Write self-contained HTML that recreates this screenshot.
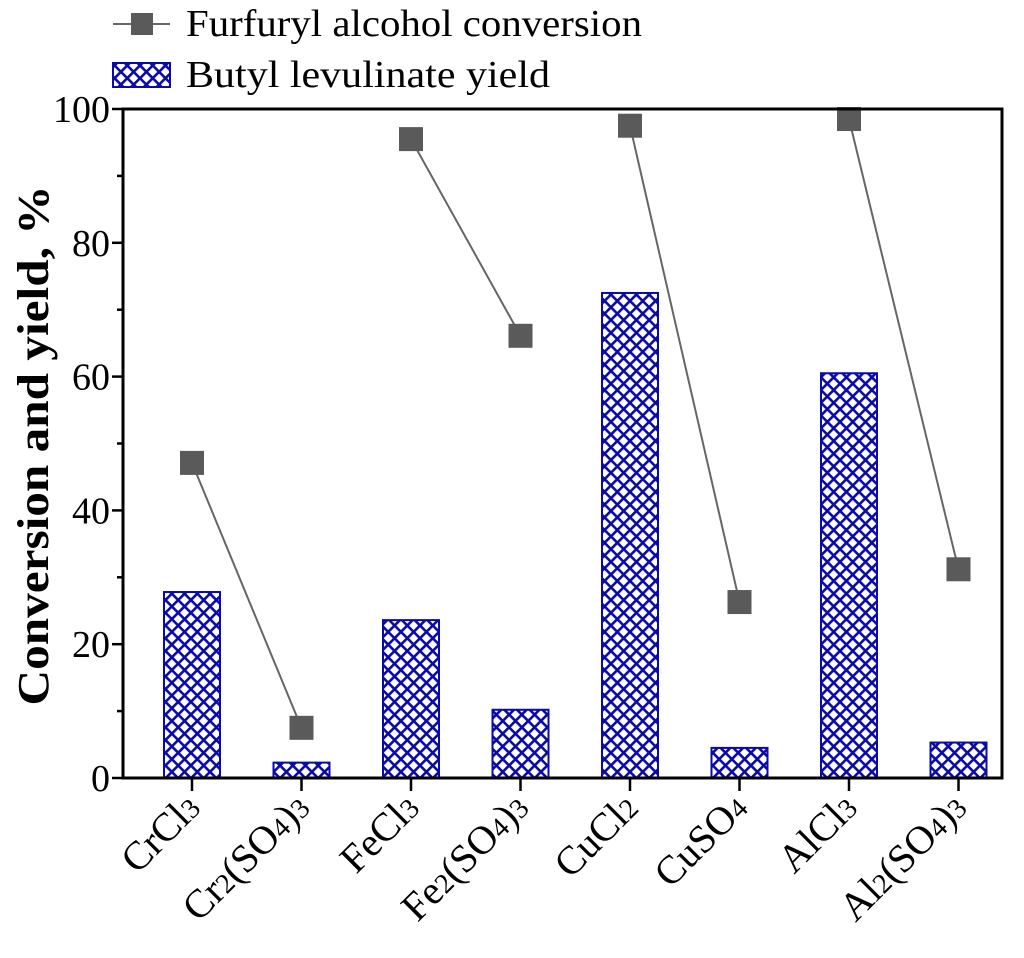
<!DOCTYPE html>
<html><head><meta charset="utf-8"><style>
body{margin:0;background:#fff;}
svg{display:block;font-family:"Liberation Serif",serif;}
</style></head><body>
<svg id="chart" width="1024" height="958">
<defs>
<pattern id="hatch" patternUnits="userSpaceOnUse" width="9" height="9" patternTransform="rotate(45)">
<rect width="9" height="9" fill="#fff"/>
<rect x="0" y="0" width="2.6" height="9" fill="#0a0aa8"/>
<rect x="0" y="0" width="9" height="2.6" fill="#0a0aa8"/>
</pattern>
</defs>
<g id="plot"></g>
</svg>
<script>
const categories=[["CrCl","3"],["Cr","2","(SO","4",")","3"],["FeCl","3"],["Fe","2","(SO","4",")","3"],["CuCl","2"],["CuSO","4"],["AlCl","3"],["Al","2","(SO","4",")","3"]];
const yieldValues=[27.8,2.3,23.6,10.2,72.5,4.5,60.5,5.3];
const conversionValues=[47.1,7.5,95.5,66.1,97.5,26.3,98.5,31.2];
const yTicks=[0,20,40,60,80,100];
const NS="http://www.w3.org/2000/svg";
const g=document.getElementById('plot');
const L=123,R=1002,T=109,B=778;
const y=v=>B-(v/100)*(B-T);
const x=i=>192+i*109.5;
function mk(t,a,p){const e=document.createElementNS(NS,t);for(const k in a)e.setAttribute(k,a[k]);(p||g).appendChild(e);return e;}
yieldValues.forEach((v,i)=>{
 const r=mk('rect',{x:x(i)-28,y:y(v),width:56,height:B-y(v),fill:'url(#hatch)',stroke:'#0a0aa8','stroke-width':2});
 
 
});
for(let i=0;i<conversionValues.length;i+=2){
 const l=mk('line',{x1:x(i),y1:y(conversionValues[i]),x2:x(i+1),y2:y(conversionValues[i+1]),stroke:'#666','stroke-width':2});
 
 
}
conversionValues.forEach((v,i)=>{
 const m=mk('rect',{x:x(i)-12,y:y(v)-12,width:24,height:24,fill:'#5a5a5a'});
 
 
});
const fr=mk('rect',{x:L,y:T,width:R-L,height:B-T,fill:'none',stroke:'#000','stroke-width':3});


for(let v=0;v<=100;v+=10){
 const major=v%20===0;
 mk('line',{x1:L-(major?11:6),x2:L,y1:y(v),y2:y(v),stroke:'#000','stroke-width':2.5});
}
yTicks.forEach(v=>{
 const t=mk('text',{x:L-13,y:y(v)+13,'text-anchor':'end','font-size':38});
 t.textContent=v;
 
 
});
categories.forEach((c,i)=>{
 mk('line',{x1:x(i),x2:x(i),y1:B,y2:B+13,stroke:'#000','stroke-width':2.5});
 const t=mk('text',{x:x(i)+10,y:B+32,'text-anchor':'end','font-size':40,transform:`rotate(-45 ${x(i)+10} ${B+32})`});
 c.forEach((s,j)=>{
  const sp=mk('tspan',{},t);
  if(j%2===1){sp.setAttribute('font-size',28);}
  sp.textContent=s;
 });
 
 
});
const yt=mk('text',{x:48,y:(T+B)/2+2,'text-anchor':'middle','font-size':44,'font-weight':'bold',textLength:520,lengthAdjust:'spacingAndGlyphs',transform:`rotate(-90 48 ${(T+B)/2+2})`});
yt.textContent='Conversion and yield, %';


mk('line',{x1:113,x2:170,y1:24,y2:24,stroke:'#666','stroke-width':2});
mk('rect',{x:131,y:13,width:22,height:22,fill:'#5a5a5a'});
const l1=mk('text',{x:186,y:36,'font-size':38,textLength:456,lengthAdjust:'spacingAndGlyphs'});
l1.textContent='Furfuryl alcohol conversion';


mk('rect',{x:113,y:63,width:57,height:24,fill:'url(#hatch)',stroke:'#0a0aa8','stroke-width':2});
const l2=mk('text',{x:186,y:87,'font-size':38,textLength:364,lengthAdjust:'spacingAndGlyphs'});
l2.textContent='Butyl levulinate yield';


</script>
</body></html>
